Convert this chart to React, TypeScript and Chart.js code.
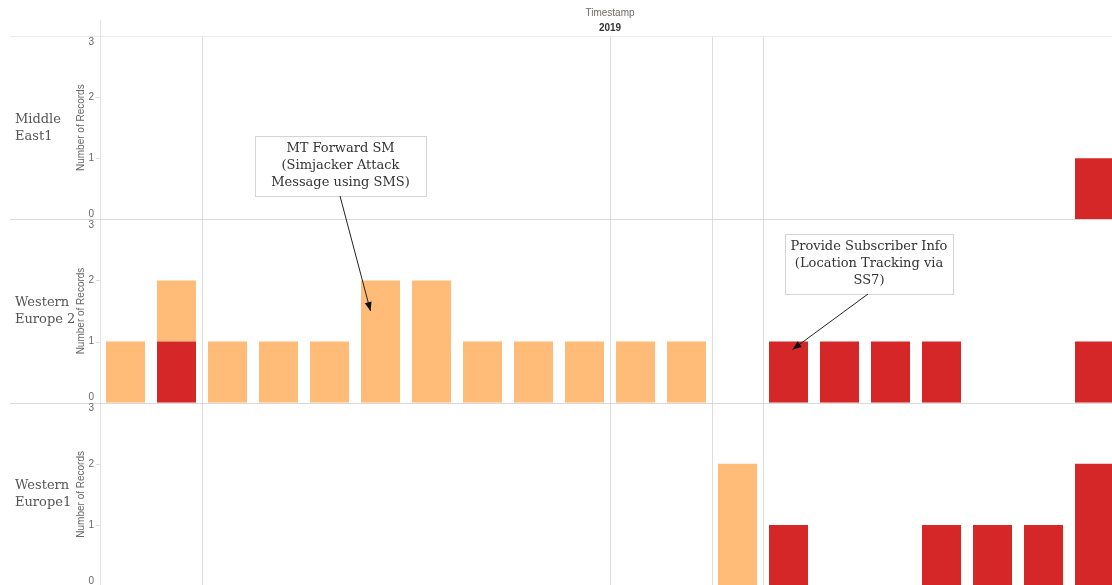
import React, { useEffect, useRef } from 'react';
import { Chart, registerables } from 'chart.js';

Chart.register(...registerables);

// ---- data ----
const slots = [
  'P01', 'P02', 'P03', 'P04', 'P05', 'P06', 'P07', 'P08', 'P09', 'P10',
  'P11', 'P12', 'P13', 'P14', 'P15', 'P16', 'P17', 'P18', 'P19', 'P20',
];
const headerTitle = 'Timestamp';
const headerYear = '2019';
const yTitle = 'Number of Records';
const yTicks = [0, 1, 2, 3];
const rowLabels = [['Middle', 'East1'], ['Western', 'Europe 2'], ['Western', 'Europe1']];
const seriesNames = ['Provide Subscriber Info', 'MT Forward SM'];

const n = null;
const middleEastRed = [n, n, n, n, n, n, n, n, n, n, n, n, n, n, n, n, n, n, n, 1];
const middleEastOrange = [n, n, n, n, n, n, n, n, n, n, n, n, n, n, n, n, n, n, n, n];
const westEu2Red = [n, 1, n, n, n, n, n, n, n, n, n, n, n, 1, 1, 1, 1, n, n, 1];
const westEu2Orange = [1, 1, 1, 1, 1, 2, 2, 1, 1, 1, 1, 1, n, n, n, n, n, n, n, n];
const westEu1Red = [n, n, n, n, n, n, n, n, n, n, n, n, n, 1, n, n, 1, 1, 1, 2];
const westEu1Orange = [n, n, n, n, n, n, n, n, n, n, n, n, 2, n, n, n, n, n, n, n];

// period boundaries (slot index where a divider line is drawn)
const dividerSlots = [2, 10, 12, 13];

const annotationTexts = [
  ['MT Forward SM', '(Simjacker Attack', 'Message using SMS)'],
  ['Provide Subscriber Info', '(Location Tracking via', 'SS7)'],
];

// ---- styles / layout ----
const RED = '#d62728';
const ORANGE = '#ffbb78';
const annotationLayout = [
  { box: [255, 136, 171, 60], from: [340, 196], slot: 5, value: 1.5, dx: -10, row: 1 },
  { box: [785, 234, 168, 60], from: [868, 294], slot: 13, value: 0.87, dx: 4, row: 1 },
];
const rowAxisIds = ['yME', 'yWE2', 'yWE1'];

export default function App() {
  const ref = useRef<HTMLCanvasElement>(null);

  useEffect(() => {
    const canvas = ref.current;
    if (!canvas) return;

    const overlay = {
      id: 'overlay',
      beforeDatasetsDraw(chart: any) {
        const { ctx, chartArea } = chart;
        ctx.save();
        ctx.lineWidth = 1;
        // header bottom line
        ctx.strokeStyle = '#ebebeb';
        ctx.beginPath();
        ctx.moveTo(10, chartArea.top + 0.5);
        ctx.lineTo(chartArea.right, chartArea.top + 0.5);
        ctx.stroke();
        // y axis line
        ctx.strokeStyle = '#e4e4e4';
        ctx.beginPath();
        ctx.moveTo(chartArea.left + 0.5, 20);
        ctx.lineTo(chartArea.left + 0.5, chartArea.bottom);
        ctx.stroke();
        // row separators / baselines
        ctx.strokeStyle = '#d9d9d9';
        rowAxisIds.forEach((id) => {
          const s = chart.scales[id];
          const yb = Math.round(s.getPixelForValue(0)) + 0.5;
          ctx.beginPath();
          ctx.moveTo(10, yb);
          ctx.lineTo(chartArea.right, yb);
          ctx.stroke();
        });
        ctx.restore();
      },
      afterDraw(chart: any) {
        const { ctx, chartArea } = chart;
        const xs = chart.scales.x;
        ctx.save();
        // header
        const cx = (chartArea.left + chartArea.right) / 2;
        ctx.textAlign = 'center';
        ctx.textBaseline = 'middle';
        ctx.fillStyle = '#6e6a66';
        ctx.font = '10px "Liberation Sans", Arial, sans-serif';
        ctx.fillText(headerTitle, cx, 13);
        ctx.fillStyle = '#333';
        ctx.font = 'bold 10px "Liberation Sans", Arial, sans-serif';
        ctx.fillText(headerYear, cx, 28);

        rowAxisIds.forEach((id, r) => {
          const s = chart.scales[id];
          const mid = (s.top + s.bottom) / 2;
          // tick labels and marks
          ctx.font = '10px "Liberation Sans", Arial, sans-serif';
          ctx.fillStyle = '#666';
          ctx.textAlign = 'right';
          ctx.textBaseline = 'middle';
          yTicks.forEach((v) => {
            const py = s.getPixelForValue(v);
            let ly = py;
            if (v === yTicks[yTicks.length - 1]) ly = py + 6;
            else if (v === yTicks[0]) ly = py - 5;
            ctx.fillText(String(v), chartArea.left - 6, ly);
            if (v !== yTicks[0] && v !== yTicks[yTicks.length - 1]) {
              ctx.strokeStyle = '#dcdcdc';
              ctx.beginPath();
              ctx.moveTo(chartArea.left - 4, Math.round(py) + 0.5);
              ctx.lineTo(chartArea.left, Math.round(py) + 0.5);
              ctx.stroke();
            }
          });
          // axis title
          ctx.save();
          ctx.translate(81, mid);
          ctx.rotate(-Math.PI / 2);
          ctx.textAlign = 'center';
          ctx.fillStyle = '#666';
          ctx.fillText(yTitle, 0, 0);
          ctx.restore();
          // row label
          ctx.font = '13px "DejaVu Serif", Georgia, serif';
          ctx.fillStyle = '#555';
          ctx.textAlign = 'left';
          ctx.textBaseline = 'middle';
          const lines = rowLabels[r];
          lines.forEach((t, i) => {
            ctx.fillText(t, 15, mid + (i - (lines.length - 1) / 2) * 17);
          });
        });

        // annotations
        annotationLayout.forEach((a, k) => {
          const [bx, by, bw, bh] = a.box;
          ctx.fillStyle = '#fff';
          ctx.fillRect(bx, by, bw, bh);
          ctx.strokeStyle = '#d4d4d4';
          ctx.lineWidth = 1;
          ctx.strokeRect(bx + 0.5, by + 0.5, bw, bh);
          ctx.fillStyle = '#333';
          ctx.font = '13px "DejaVu Serif", Georgia, serif';
          ctx.textAlign = 'center';
          ctx.textBaseline = 'middle';
          const lines = annotationTexts[k];
          lines.forEach((t, i) => {
            ctx.fillText(t, bx + bw / 2, by + bh / 2 + (i - (lines.length - 1) / 2) * 17);
          });
          // arrow
          const ys = chart.scales[rowAxisIds[a.row]];
          const tx = xs.getPixelForValue(a.slot) + a.dx;
          const ty = ys.getPixelForValue(a.value);
          const [fx, fy] = a.from;
          ctx.strokeStyle = '#222';
          ctx.beginPath();
          ctx.moveTo(fx, fy);
          ctx.lineTo(tx, ty);
          ctx.stroke();
          const ang = Math.atan2(ty - fy, tx - fx);
          const L = 9, W = 3.5;
          ctx.fillStyle = '#111';
          ctx.beginPath();
          ctx.moveTo(tx, ty);
          ctx.lineTo(tx - L * Math.cos(ang) + W * Math.sin(ang), ty - L * Math.sin(ang) - W * Math.cos(ang));
          ctx.lineTo(tx - L * Math.cos(ang) - W * Math.sin(ang), ty - L * Math.sin(ang) + W * Math.cos(ang));
          ctx.closePath();
          ctx.fill();
        });
        ctx.restore();
      },
    };

    const mk = (label: string, data: (number | null)[], yAxisID: string, color: string) => ({
      type: 'bar' as const,
      label,
      data,
      yAxisID,
      backgroundColor: color,
      borderWidth: 0,
      barPercentage: 0.765,
      categoryPercentage: 1,
    });

    const yAxis = (weight: number) => ({
      type: 'linear' as const,
      position: 'left' as const,
      stack: 'rows',
      stackWeight: 1,
      weight,
      min: 0,
      max: 3,
      stacked: true,
      display: false,
    });

    const chart = new Chart(canvas, {
      type: 'bar',
      data: {
        labels: slots,
        datasets: [
          mk(seriesNames[0], middleEastRed, 'yME', RED),
          mk(seriesNames[1], middleEastOrange, 'yME', ORANGE),
          mk(seriesNames[0], westEu2Red, 'yWE2', RED),
          mk(seriesNames[1], westEu2Orange, 'yWE2', ORANGE),
          mk(seriesNames[0], westEu1Red, 'yWE1', RED),
          mk(seriesNames[1], westEu1Orange, 'yWE1', ORANGE),
        ],
      },
      options: {
        responsive: false,
        animation: false,
        layout: { padding: { left: 100, top: 36, right: 0, bottom: 0 } },
        plugins: { legend: { display: false }, tooltip: { enabled: false } },
        scales: {
          x: {
            type: 'category',
            stacked: true,
            offset: true,
            ticks: { display: false },
            border: { display: false },
            grid: {
              offset: true,
              drawTicks: false,
              color: (c: any) => (dividerSlots.includes(c.index) ? '#dcdcdc' : 'rgba(0,0,0,0)'),
            },
          },
          yME: yAxis(3),
          yWE2: yAxis(2),
          yWE1: yAxis(1),
        },
      },
      plugins: [overlay],
    });
    return () => chart.destroy();
  }, []);

  return (
    <div style={{ position: 'fixed', left: 0, top: 0, width: 1112, height: 585, overflow: 'hidden', background: '#fff' }}>
      <canvas ref={ref} width={1120} height={586} style={{ display: 'block' }} />
    </div>
  );
}
